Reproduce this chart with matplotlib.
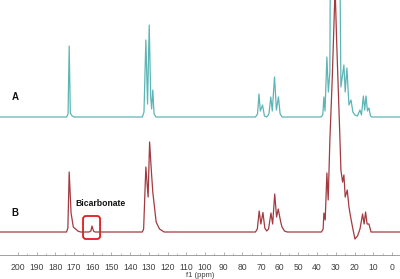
import matplotlib
matplotlib.use("Agg")
import matplotlib.pyplot as plt
from matplotlib.patches import FancyBboxPatch

# ---- data (ppm, intensity above each trace's baseline) ----
ppm_A = [209.6, 174.0, 173.2, 172.6, 172.0, 171.0, 170.0,
         133.5, 132.6, 131.6, 130.7, 129.8, 129.0, 128.5, 127.9, 127.2, 126.2,
         73.0, 71.9, 71.1, 70.4, 69.2, 68.2, 67.0, 65.8, 64.8, 64.0, 62.8, 61.8, 60.7, 59.8, 58.7,
         38.0, 37.0, 36.4, 35.8, 34.8, 34.0, 33.2, 32.4, 30.7, 28.9, 27.3, 25.7, 25.0, 24.1,
         23.0, 21.9, 20.9, 19.8, 18.5, 17.1, 16.3, 15.3, 14.6, 13.9, 13.1, 12.3, 11.5, 10.7, -4.3]
int_A = [0, 0, 3, 71, 4, 1, 0,
         0, 5, 77, 13, 92, 20, 8, 27, 3, 0,
         0, 3, 23, 6, 12, 1, 0, 3, 20, 6, 40, 7, 20, 3, 0,
         0, 2, 20, 6, 60, 25, 45, 400, 130, 400, 30, 52, 25, 49,
         12, 17, 5, 2, 1, 7, 2, 21, 7, 21, 6, 9, 1, 0, 0]

ppm_B = [209.6, 174.0, 173.3, 172.6, 171.6, 170.4, 168.0, 166.5,
         162.0, 161.0, 160.4, 159.6, 158.8,
         133.5, 132.8, 131.6, 130.4, 129.6, 128.7, 127.9, 127.0, 126.1, 124.3, 121.8,
         73.0, 72.0, 71.0, 70.1, 69.0, 68.0, 67.0, 66.0, 64.7, 63.8, 62.7, 61.7, 60.8, 59.5, 58.8, 57.5, 56.0,
         37.7, 36.8, 36.4, 35.7, 34.8, 34.1, 33.2, 31.9, 30.4, 29.6, 27.8, 27.3, 26.4, 25.7, 25.0,
         23.9, 23.0, 22.1, 21.1, 19.8, 18.4, 17.1, 15.7, 14.9, 14.1, 13.3, 12.3, 11.2, -4.3]
int_B = [0, 0, 4, 60, 19, 5, 1, 0,
         0, 1, 6, 1, 0,
         0, 3, 65, 35, 90, 62, 40, 25, 10, 3, 0,
         0, 3, 21, 8, 19.5, 4, 1, 3, 19, 8, 38, 15, 23, 10, 5, 1, 0,
         0, 3, 19, 12, 59, 32, 92, 155, 245, 192, 92, 62, 50, 57, 35,
         42, 25, 15, 5, -7, -4, 3, 18, 8, 20, 8, 8, 0, 0]

major_ticks = list(range(0, 201, 10))
trace_labels = ["A", "B"]
annotation = "Bicarbonate"
xlabel = "f1 (ppm)"

# ---- layout / style ----
offset_A = 138
offset_B = 23
col_A = "#5db5b5"
col_B = "#a23a40"

plt.rcParams["font.family"] = ["Liberation Sans", "DejaVu Sans"]
fig = plt.figure(figsize=(4.0, 2.79), dpi=100)
ax = fig.add_axes([0, 24 / 279, 1, 255 / 279])

ax.plot(ppm_B, [v + offset_B for v in int_B], color=col_B, lw=0.9)
ax.plot(ppm_A, [v + offset_A for v in int_A], color=col_A, lw=0.9)

ax.set_xlim(209.6, -4.3)
ax.set_ylim(0, 255)

for s in ["left", "right", "top"]:
    ax.spines[s].set_visible(False)
ax.spines["bottom"].set_color("#909090")
ax.spines["bottom"].set_linewidth(0.6)
ax.set_yticks([])
ax.set_xticks(major_ticks)
ax.set_xticks(range(0, 205, 5), minor=True)
ax.tick_params(axis="x", which="major", direction="in", length=2.5, width=0.5,
               color="#909090", labelsize=6.2, labelcolor="#404040", pad=5.5)
ax.tick_params(axis="x", which="minor", direction="in", length=1.5, width=0.4,
               color="#909090")
ax.set_xlabel(xlabel, fontsize=5.5, color="#404040", labelpad=0.5)

ax.text(201.6, 158, trace_labels[0], fontsize=7, fontweight="bold",
        ha="center", va="center", color="#111111")
ax.text(201.6, 42, trace_labels[1], fontsize=7, fontweight="bold",
        ha="center", va="center", color="#111111")
ax.text(156.1, 51, annotation, fontsize=6.2, fontweight="bold",
        ha="center", va="center", color="#111111")

box = FancyBboxPatch((156.1, 16), 9.1, 23,
                     boxstyle="round,pad=0,rounding_size=1.6",
                     mutation_aspect=1.87, fill=False, ec="#e21c1c", lw=1.3)
ax.add_patch(box)

fig.savefig("out.png", dpi=100)
